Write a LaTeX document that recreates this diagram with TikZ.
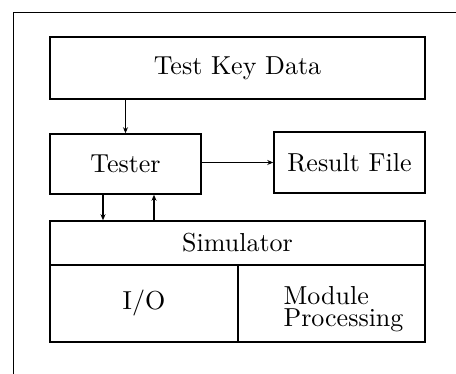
\documentclass[tikz,border=0pt]{standalone}
\usepackage{graphicx}
\usetikzlibrary{arrows.meta}
\newcommand{\bigtxt}[1]{\scalebox{2.6}{#1}}
\begin{document}
\begin{tikzpicture}[x=1pt,y=-1pt,
  box/.style={draw,line width=1.5pt,rectangle,inner sep=0pt},
  arr/.style={line width=1.2pt,-{Stealth[length=6pt,width=5pt]}}]
\useasboundingbox (0,0) rectangle (456,374);
\draw[line width=1.7pt] (13.5,374) -- (13.5,12.5) -- (456,12.5);
\node[box,minimum width=375pt,minimum height=62pt] (tkd) at (237.5,68) {\bigtxt{Test Key Data}};
\node[box,minimum width=151pt,minimum height=60pt] (tester) at (125.5,164) {\bigtxt{Tester}};
\node[box,minimum width=151pt,minimum height=61pt] (result) at (349.5,162.5) {\bigtxt{Result File}};
\node[box,minimum width=375pt,minimum height=44pt] (sim) at (237.5,243) {\bigtxt{Simulator}};
\node[box,minimum width=188pt,minimum height=77pt] (io) at (144,303.5) {\bigtxt{I/O}};
\node[box,minimum width=187pt,minimum height=77pt,text height=20pt,text depth=17pt] (mod) at (331.5,303.5)
  {\hspace*{24pt}\bigtxt{\begin{tabular}[t]{@{}l@{}}Module\\[-3.9pt]Processing\end{tabular}}};
\draw[arr] (tkd.south -| tester.north) -- (tester.north);
\draw[arr] (tester.east |- result.west) -- (result.west);
\draw[arr] ([xshift=-22.5pt]tester.south) -- ([xshift=-22.5pt]tester.south |- sim.north);
\draw[arr] ([xshift=28.5pt]tester.south |- sim.north) -- ([xshift=28.5pt]tester.south);
\end{tikzpicture}
\end{document}
